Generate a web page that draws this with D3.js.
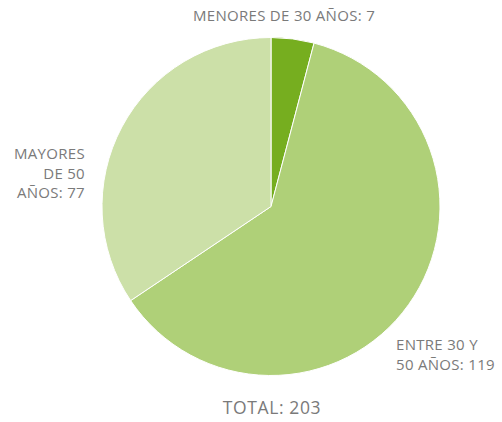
<!DOCTYPE html>
<html>
<head>
<meta charset="utf-8">
<script src="https://cdn.jsdelivr.net/npm/d3@7"></script>
<style>
  body { margin: 0; background: #fff; }
  text { font-family: "Open Sans", Lato, sans-serif; font-size: 15px; letter-spacing: 0.3px; fill: #7a7a7a; }
</style>
</head>
<body>
<svg id="chart" width="502" height="422"></svg>
<script>
// chart data
const categories = ["MENORES DE 30 AÑOS", "ENTRE 30 Y 50 AÑOS", "MAYORES DE 50 AÑOS"];
const values = [7, 119, 77];           // numbers printed in the labels
const sliceShares = [4.1, 61.5, 34.4]; // slice sizes (%)
const colors = ["#76ae1f", "#afd078", "#cce0a8"];
const total = d3.sum(values);

const svg = d3.select("#chart");
const cx = 271, cy = 206.5, r = 169;

const pie = d3.pie().sort(null).value(d => d);
const arc = d3.arc().innerRadius(0).outerRadius(r);

const g = svg.append("g").attr("transform", "translate(" + cx + "," + cy + ")");

g.selectAll("path")
  .data(pie(sliceShares))
  .enter()
  .append("path")
  .attr("d", arc)
  .attr("fill", (d, i) => colors[i])
  .attr("stroke", "#fff")
  .attr("stroke-width", 1);

// labels (multi line where the original wraps)
const labels = [
  {lines: [categories[0] + ": " + values[0]], x: 284, y: 21, anchor: "middle"},
  {lines: ["ENTRE 30 Y", "50 AÑOS: " + values[1]], x: 396, y: 350, anchor: "start"},
  {lines: ["MAYORES", "DE 50", "AÑOS: " + values[2]], x: 85, y: 159, anchor: "end"}
];

labels.forEach(function(l) {
  const t = svg.append("text")
    .attr("x", l.x)
    .attr("y", l.y)
    .attr("text-anchor", l.anchor);
  l.lines.forEach(function(line, i) {
    t.append("tspan").attr("x", l.x).attr("dy", i == 0 ? 0 : 19.5).text(line);
  });
});

svg.append("text")
  .attr("x", 272)
  .attr("y", 414)
  .attr("text-anchor", "middle")
  .style("font-size", "17.5px")
  .style("letter-spacing", "0.6px")
  .text("TOTAL: " + total);
</script>
</body>
</html>
